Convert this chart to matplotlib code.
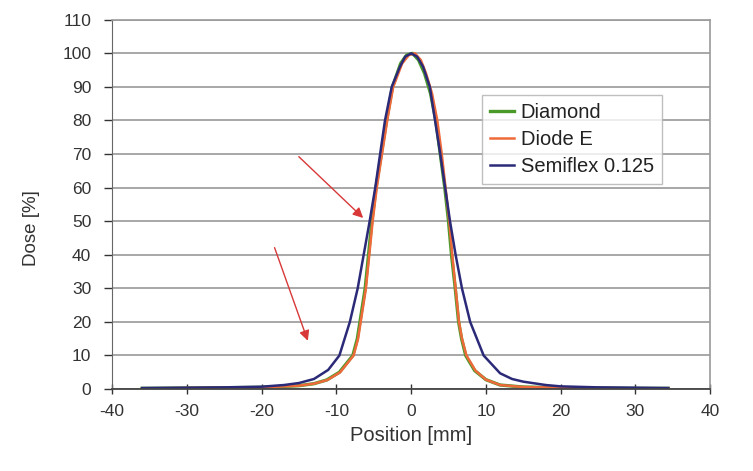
"""Dose profiles: Diamond vs Diode E vs Semiflex 0.125 (reconstructed)."""

import matplotlib
matplotlib.use("Agg")
import matplotlib.pyplot as plt

plt.rcParams["font.family"] = ["Liberation Sans", "DejaVu Sans"]
plt.rcParams["axes.unicode_minus"] = False

# values
diamond_x = [-36, -30, -25, -20, -17, -15, -13, -11.3, -9.6, -7.8, -7.2, -6.85,
             -6.15, -5.7, -5.26, -4.7, -4.0, -3.3, -2.5, -1.4, -0.6, 0.2, 1.0,
             1.8, 2.6, 3.3, 3.9, 4.5, 5.0, 5.4, 5.9, 6.35, 6.75, 7.3, 8.5, 10,
             11.9, 15, 20, 25, 30, 34.4]
diamond_y = [0.2, 0.3, 0.4, 0.5, 0.8, 1.0, 1.6, 2.7, 5, 10, 15, 20,
             30, 40, 50, 60, 70, 80, 90, 97, 99.5, 100, 98,
             94, 88, 80, 70, 60, 50, 40, 30, 20, 15, 10, 5.5, 2.8,
             1.2, 0.6, 0.4, 0.3, 0.2, 0.2]

diode_x = [-36, -30, -25, -20, -17, -15, -13, -11.2, -9.5, -7.7, -7.1, -6.75,
           -6.05, -5.6, -5.15, -4.6, -3.9, -3.2, -2.4, -1.2, -0.3, 0.5, 1.3,
           2.0, 2.8, 3.5, 4.1, 4.6, 5.1, 5.5, 5.95, 6.4, 6.8, 7.4, 8.6, 10,
           11.9, 15, 20, 25, 30, 34.4]
diode_y = [0.2, 0.3, 0.4, 0.5, 0.8, 1.0, 1.6, 2.7, 5, 10, 15, 20,
           30, 40, 50, 60, 70, 80, 90, 97, 99.5, 100, 98,
           94, 88, 80, 70, 60, 50, 40, 30, 20, 15, 10, 5.5, 2.8,
           1.2, 0.6, 0.4, 0.3, 0.2, 0.2]

semiflex_x = [-36, -30, -25, -20, -17, -15, -13, -11.1, -9.6, -8.2, -7.15,
              -6.35, -5.55, -4.8, -4.15, -3.5, -2.6, -1.5, -0.8, 0, 0.8, 1.6,
              2.5, 3.2, 3.9, 4.55, 5.2, 5.95, 6.8, 7.9, 9.7, 11.9, 13.5, 15, 18,
              20, 25, 30, 34.4]
semiflex_y = [0.3, 0.4, 0.5, 0.7, 1.2, 1.8, 3.0, 5.7, 10, 20, 30,
              40, 50, 60, 70, 80, 90, 96, 99, 100, 99, 96,
              90, 80, 70, 60, 50, 40, 30, 20, 10, 4.7, 3.0, 2.2, 1.2,
              0.8, 0.5, 0.4, 0.3]

x_ticks = list(range(-40, 41, 10))
y_ticks = list(range(0, 111, 10))

# two red annotation arrows: (start x, start y, tip x, tip y)
arrows = [(-15.3, 69.8, -6.15, 50.4), (-18.4, 42.9, -13.7, 13.6)]


fig = plt.figure(figsize=(7.53, 4.71), dpi=100)
ax = fig.add_axes([0.149, 0.174, 0.794, 0.784])

ax.plot(diamond_x, diamond_y, color="#4a9a2a", lw=2.4, label="Diamond")
ax.plot(diode_x, diode_y, color="#ee6a3a", lw=1.8, label="Diode E")
ax.plot(semiflex_x, semiflex_y, color="#2b2a78", lw=1.8, label="Semiflex 0.125")

for x0, y0, x1, y1 in arrows:
    ax.annotate("", xy=(x1, y1), xytext=(x0, y0),
                arrowprops=dict(arrowstyle="-|>", color="#d83838", lw=1.0,
                                mutation_scale=15))

ax.set_xlim(-40, 40)
ax.set_ylim(0, 110)
ax.set_xticks(x_ticks)
ax.set_yticks(y_ticks)
ax.yaxis.grid(True, color="#a0a0a0", lw=1.3)
ax.set_axisbelow(True)
ax.tick_params(labelsize=12.5, colors="#333333", length=6, width=1,
               labelcolor="#333333")
ax.tick_params(axis="y", pad=9)
ax.tick_params(axis="x", direction="inout", length=7, pad=7)
for side in ["top", "right"]:
    ax.spines[side].set_color("#9a9a9a")
    ax.spines[side].set_linewidth(1.2)
ax.spines["left"].set_color("#666666")
ax.spines["bottom"].set_color("#444444")
ax.spines["bottom"].set_linewidth(1.3)

ax.set_xlabel("Position [mm]", fontsize=14.5, color="#333333", labelpad=5)
ax.set_ylabel("Dose [%]", fontsize=13.5, color="#333333", labelpad=16)
ax.yaxis.set_label_coords(-0.12, 0.436)

leg = ax.legend(loc="upper left", bbox_to_anchor=(0.619, 0.797), fontsize=14.5,
                frameon=True, fancybox=False, handlelength=1.15,
                handletextpad=0.35, labelspacing=0.4, borderpad=0.4,
                borderaxespad=0)
leg.get_frame().set_edgecolor("#b0b0b0")
leg.get_frame().set_linewidth(1.0)
for t in leg.get_texts():
    t.set_color("#222222")

fig.savefig("out.png", dpi=100)
